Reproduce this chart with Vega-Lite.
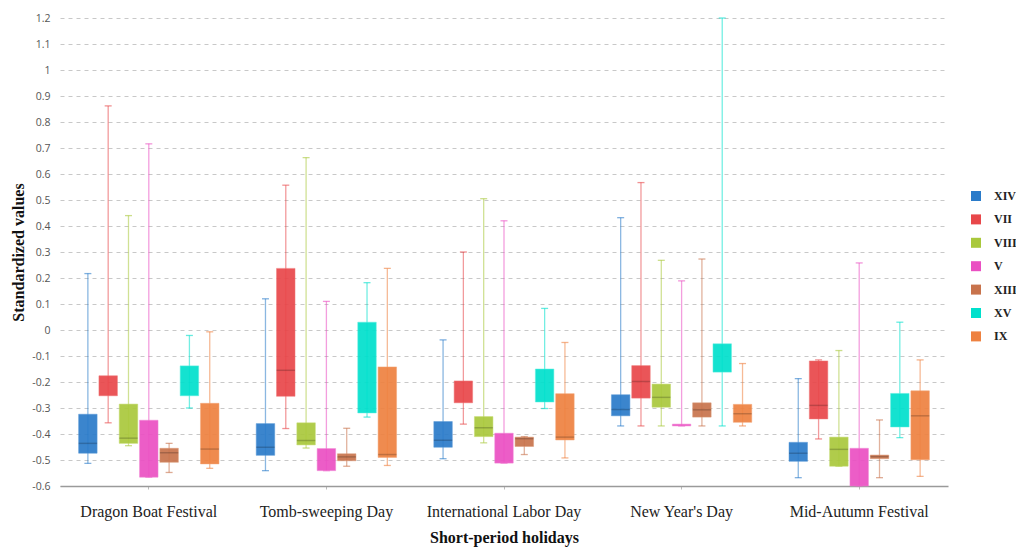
{
  "$schema": "https://vega.github.io/schema/vega-lite/v6.json",
  "width": 888,
  "height": 468,
  "autosize": {"type": "none"},
  "padding": {"left": 60, "top": 18, "right": 68, "bottom": 64},
  "background": "white",
  "config": {"view": {"stroke": null}},
  "data": {
    "values": [
      {"holiday": "Dragon Boat Festival", "series": "XIV", "lo": -0.513, "q1": -0.474, "med": -0.436, "q3": -0.324, "hi": 0.217},
      {"holiday": "Dragon Boat Festival", "series": "VII", "lo": -0.357, "q1": -0.253, "med": null, "q3": -0.176, "hi": 0.862},
      {"holiday": "Dragon Boat Festival", "series": "VIII", "lo": -0.445, "q1": -0.436, "med": -0.416, "q3": -0.285, "hi": 0.44},
      {"holiday": "Dragon Boat Festival", "series": "V", "lo": -0.566, "q1": -0.566, "med": null, "q3": -0.347, "hi": 0.716},
      {"holiday": "Dragon Boat Festival", "series": "XIII", "lo": -0.548, "q1": -0.509, "med": -0.472, "q3": -0.455, "hi": -0.436},
      {"holiday": "Dragon Boat Festival", "series": "XV", "lo": -0.3, "q1": -0.253, "med": null, "q3": -0.138, "hi": -0.021},
      {"holiday": "Dragon Boat Festival", "series": "IX", "lo": -0.532, "q1": -0.515, "med": -0.458, "q3": -0.282, "hi": -0.007},

      {"holiday": "Tomb-sweeping Day", "series": "XIV", "lo": -0.541, "q1": -0.482, "med": -0.451, "q3": -0.36, "hi": 0.12},
      {"holiday": "Tomb-sweeping Day", "series": "VII", "lo": -0.379, "q1": -0.255, "med": -0.155, "q3": 0.237, "hi": 0.557},
      {"holiday": "Tomb-sweeping Day", "series": "VIII", "lo": -0.454, "q1": -0.442, "med": -0.425, "q3": -0.357, "hi": 0.663},
      {"holiday": "Tomb-sweeping Day", "series": "V", "lo": -0.541, "q1": -0.541, "med": null, "q3": -0.456, "hi": 0.11},
      {"holiday": "Tomb-sweeping Day", "series": "XIII", "lo": -0.524, "q1": -0.503, "med": -0.488, "q3": -0.476, "hi": -0.378},
      {"holiday": "Tomb-sweeping Day", "series": "XV", "lo": -0.335, "q1": -0.319, "med": null, "q3": 0.03, "hi": 0.182},
      {"holiday": "Tomb-sweeping Day", "series": "IX", "lo": -0.521, "q1": -0.49, "med": -0.479, "q3": -0.142, "hi": 0.237},

      {"holiday": "International Labor Day", "series": "XIV", "lo": -0.495, "q1": -0.451, "med": -0.424, "q3": -0.352, "hi": -0.038},
      {"holiday": "International Labor Day", "series": "VII", "lo": -0.362, "q1": -0.28, "med": null, "q3": -0.196, "hi": 0.3},
      {"holiday": "International Labor Day", "series": "VIII", "lo": -0.434, "q1": -0.41, "med": -0.376, "q3": -0.333, "hi": 0.505},
      {"holiday": "International Labor Day", "series": "V", "lo": -0.512, "q1": -0.512, "med": null, "q3": -0.397, "hi": 0.42},
      {"holiday": "International Labor Day", "series": "XIII", "lo": -0.479, "q1": -0.448, "med": -0.418, "q3": -0.412, "hi": -0.41},
      {"holiday": "International Labor Day", "series": "XV", "lo": -0.302, "q1": -0.277, "med": null, "q3": -0.15, "hi": 0.083},
      {"holiday": "International Labor Day", "series": "IX", "lo": -0.492, "q1": -0.423, "med": -0.412, "q3": -0.245, "hi": -0.048},

      {"holiday": "New Year's Day", "series": "XIV", "lo": -0.369, "q1": -0.33, "med": -0.306, "q3": -0.249, "hi": 0.432},
      {"holiday": "New Year's Day", "series": "VII", "lo": -0.369, "q1": -0.262, "med": -0.198, "q3": -0.137, "hi": 0.567},
      {"holiday": "New Year's Day", "series": "VIII", "lo": -0.369, "q1": -0.297, "med": -0.259, "q3": -0.208, "hi": 0.268},
      {"holiday": "New Year's Day", "series": "V", "lo": -0.369, "q1": -0.369, "med": null, "q3": -0.362, "hi": 0.189},
      {"holiday": "New Year's Day", "series": "XIII", "lo": -0.369, "q1": -0.335, "med": -0.307, "q3": -0.28, "hi": 0.273},
      {"holiday": "New Year's Day", "series": "XV", "lo": -0.369, "q1": -0.162, "med": null, "q3": -0.053, "hi": 1.2},
      {"holiday": "New Year's Day", "series": "IX", "lo": -0.369, "q1": -0.355, "med": -0.322, "q3": -0.286, "hi": -0.129},

      {"holiday": "Mid-Autumn Festival", "series": "XIV", "lo": -0.568, "q1": -0.505, "med": -0.474, "q3": -0.432, "hi": -0.187},
      {"holiday": "Mid-Autumn Festival", "series": "VII", "lo": -0.419, "q1": -0.342, "med": -0.29, "q3": -0.119, "hi": -0.115},
      {"holiday": "Mid-Autumn Festival", "series": "VIII", "lo": -0.524, "q1": -0.524, "med": -0.459, "q3": -0.412, "hi": -0.079},
      {"holiday": "Mid-Autumn Festival", "series": "V", "lo": -0.6, "q1": -0.6, "med": null, "q3": -0.455, "hi": 0.258},
      {"holiday": "Mid-Autumn Festival", "series": "XIII", "lo": -0.568, "q1": -0.495, "med": -0.487, "q3": -0.481, "hi": -0.346},
      {"holiday": "Mid-Autumn Festival", "series": "XV", "lo": -0.414, "q1": -0.373, "med": null, "q3": -0.244, "hi": 0.03},
      {"holiday": "Mid-Autumn Festival", "series": "IX", "lo": -0.563, "q1": -0.499, "med": -0.33, "q3": -0.234, "hi": -0.115}
    ]
  },
  "encoding": {
    "x": {
      "field": "holiday",
      "type": "nominal",
      "sort": ["Dragon Boat Festival", "Tomb-sweeping Day", "International Labor Day", "New Year's Day", "Mid-Autumn Festival"],
      "scale": {"paddingInner": 0, "paddingOuter": 0},
      "axis": {
        "title": "Short-period holidays",
        "titleFont": "Liberation Serif",
        "titleFontSize": 16,
        "titleFontWeight": "bold",
        "titleColor": "#111111",
        "titlePadding": 10,
        "labelAngle": 0,
        "labelFont": "Liberation Serif",
        "labelFontSize": 16,
        "labelColor": "#222222",
        "labelPadding": 14,
        "domainColor": "#9a9a9a",
        "domainWidth": 1.5,
        "tickColor": "#bbbbbb",
        "tickSize": 3,
        "grid": false
      }
    },
    "y": {
      "type": "quantitative",
      "scale": {"domain": [-0.6, 1.2], "nice": false, "zero": false},
      "axis": {
        "title": "Standardized values",
        "titleFont": "Liberation Serif",
        "titleFontSize": 16,
        "titleFontWeight": "bold",
        "titleColor": "#111111",
        "titlePadding": 5,
        "values": [-0.6, -0.5, -0.4, -0.3, -0.2, -0.1, 0, 0.1, 0.2, 0.3, 0.4, 0.5, 0.6, 0.7, 0.8, 0.9, 1, 1.1, 1.2],
        "labelOverlap": false,
        "labelSeparation": 0,
        "labelExpr": "replace(format(datum.value, '~g'), '\u2212', '-')",
        "labelFont": "Open Sans",
        "labelFontSize": 10.5,
        "labelColor": "#555555",
        "labelPadding": 10,
        "domain": false,
        "ticks": false,
        "grid": true,
        "gridColor": "#c8c8c8",
        "gridDash": [4, 4],
        "gridWidth": 1
      }
    },
    "xOffset": {
      "field": "series",
      "type": "nominal",
      "sort": ["XIV", "VII", "VIII", "V", "XIII", "XV", "IX"],
      "scale": {"paddingInner": 0.09, "paddingOuter": 0.917}
    },
    "color": {
      "field": "series",
      "type": "nominal",
      "sort": ["XIV", "VII", "VIII", "V", "XIII", "XV", "IX"],
      "scale": {
        "domain": ["XIV", "VII", "VIII", "V", "XIII", "XV", "IX"],
        "range": ["#2a7bc9", "#e8474a", "#a9c83c", "#ea4fc2", "#c8734c", "#00e0cc", "#ee8140"]
      },
      "legend": {
        "title": null,
        "orient": "none",
        "legendX": 910,
        "legendY": 172,
        "symbolType": "square",
        "symbolSize": 100,
        "symbolStrokeWidth": 0,
        "symbolOpacity": 1,
        "rowPadding": 11.4,
        "labelOffset": 12,
        "labelFont": "Liberation Serif",
        "labelFontSize": 12,
        "labelFontWeight": "bold",
        "labelColor": "#222222"
      }
    }
  },
  "layer": [
    {
      "mark": {"type": "rule", "strokeWidth": 1.3, "opacity": 0.55},
      "encoding": {
        "y": {"field": "lo"},
        "y2": {"field": "hi"}
      }
    },
    {
      "mark": {"type": "tick", "size": 7, "thickness": 1.3, "opacity": 0.6},
      "encoding": {"y": {"field": "hi"}}
    },
    {
      "mark": {"type": "tick", "size": 7, "thickness": 1.3, "opacity": 0.6},
      "encoding": {"y": {"field": "lo"}}
    },
    {
      "mark": {"type": "bar", "fillOpacity": 0.92, "strokeWidth": 1, "strokeOpacity": 0.5},
      "encoding": {
        "y": {"field": "q1"},
        "y2": {"field": "q3"},
        "stroke": {"field": "series", "type": "nominal", "legend": null, "scale": {"domain": ["XIV", "VII", "VIII", "V", "XIII", "XV", "IX"], "range": ["#5a9ad8", "#f07a7a", "#c3db6e", "#f286d6", "#dc9a78", "#5ef0e0", "#f4a678"]}}
      }
    },
    {
      "mark": {"type": "tick", "thickness": 1.5, "color": "#000000", "opacity": 0.2},
      "encoding": {
        "y": {"field": "med"},
        "color": {"value": "#000000"}
      }
    }
  ]
}
